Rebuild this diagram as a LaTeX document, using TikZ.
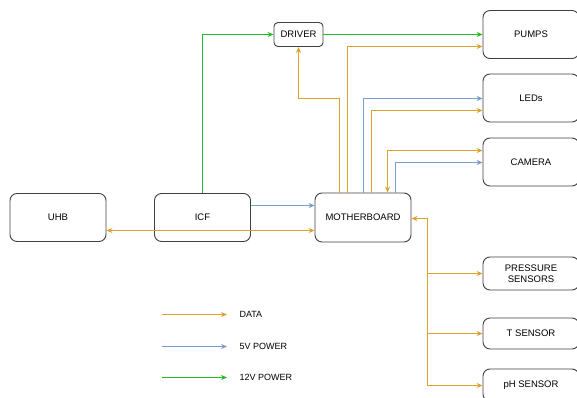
\documentclass[tikz,border=0pt]{standalone}
\usepackage{fontspec}
\setmainfont{Liberation Sans}
\usetikzlibrary{arrows.meta,positioning,calc}
\definecolor{datac}{HTML}{DCA22C}
\definecolor{fivec}{HTML}{7B9CCB}
\definecolor{twelvec}{HTML}{22BB22}

\begin{document}
\begin{tikzpicture}[x=1pt, y=-1pt,
    box/.style={draw=black!75, line width=0.9pt, rounded corners=7pt, align=center,
      font=\fontsize{9.5}{11}\selectfont, minimum width=96pt, minimum height=48pt, inner sep=0pt},
    smallbox/.style={box, rounded corners=4pt, minimum width=49pt, minimum height=24pt},
    tip/.tip={Stealth[length=6pt, width=5pt]},
    link/.style={line width=1.3pt, -tip},
    data/.style={link, draw=datac},
    databoth/.style={data, tip-tip},
    fivev/.style={link, draw=fivec},
    twelvev/.style={link, draw=twelvec}]
  \useasboundingbox (0,0) rectangle (577,398);

  % Main blocks
  \node[box] (uhb) at (58,217.5) {UHB};
  \node[box] (icf) at (202.5,217.5) {ICF};
  \node[box, minimum height=49pt] (mb) at (363,217.5) {MOTHERBOARD};
  \node[smallbox] (driver) at (298.5,34.5) {DRIVER};

  % Loads on the right
  \node[box] (pumps) at (531,34.5) {PUMPS};
  \node[box] (leds) at (531,98) {LEDs};
  \node[box] (camera) at (531,162) {CAMERA};
  \node[box, minimum height=33pt] (pressure) at (531,273.5) {PRESSURE\\SENSORS};
  \node[box, minimum height=31pt] (tsensor) at (531,333.5) {T SENSOR};
  \node[box, minimum height=32pt] (phsensor) at (531,385) {pH SENSOR};

  % 12V power
  \draw[twelvev] (icf.north) |- (driver.west);
  \draw[twelvev] (driver.east) -- (pumps.west);

  % 5V power
  \draw[fivev] (icf.east |- 0,205.5) -- (mb.west |- 0,205.5);
  \draw[fivev] (363.5,0 |- mb.north) |- (leds.west |- 0,98.5);
  \draw[fivev] (395.5,0 |- mb.north) |- (camera.west |- 0,162.5);

  % Data
  \draw[databoth] (uhb.east |- 0,230.5) -- (mb.west |- 0,230.5);
  \draw[data] (339.5,0 |- mb.north) |- (298.5,98.5) -- (driver.south);
  \draw[data] (347.5,0 |- mb.north) |- (pumps.west |- 0,46.5);
  \draw[data] (371.5,0 |- mb.north) |- (leds.west |- 0,110.5);
  \draw[databoth] (387.5,0 |- mb.north) |- (camera.west |- 0,150.5);

  % Sensor bus
  \coordinate (bus) at (427.5,218.5);
  \draw[databoth] (mb.east |- bus) -- (bus) |- (phsensor.west |- 0,385.5);
  \draw[data] (bus |- pressure) -- (pressure.west);
  \draw[data] (bus |- tsensor) -- (tsensor.west);

  % Legend
  \node[anchor=west, font=\fontsize{9}{11}\selectfont] (ldata) at (236,314.5) {DATA};
  \node[anchor=west, font=\fontsize{9}{11}\selectfont] (lfive) at (236,346.5) {5V POWER};
  \node[anchor=west, font=\fontsize{9}{11}\selectfont] (ltwelve) at (236,377.5) {12V POWER};
  \coordinate (ld) at (162,314.5);
  \coordinate (lf) at (162,346.5);
  \coordinate (lt) at (162,377.5);
  \draw[data] (ld) -- ([xshift=-9pt]ldata.west);
  \draw[fivev] (lf) -- ([xshift=-9pt]lfive.west);
  \draw[twelvev] (lt) -- ([xshift=-9pt]ltwelve.west);
\end{tikzpicture}
\end{document}
